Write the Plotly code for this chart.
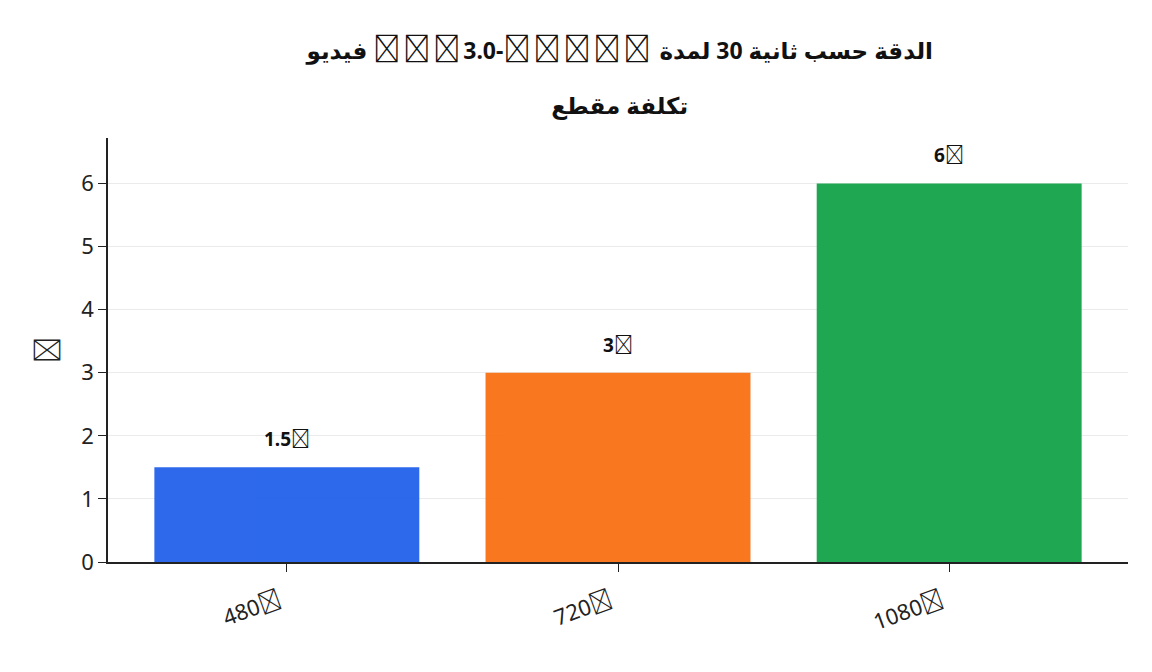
import plotly.graph_objects as go

# glyph that no installed font has; drawn as a box like in the reference
U = "<span style=\"font-family:'Noto Sans CJK SC'\">\ue000</span>"
UT = ("<span style=\"font-family:'Noto Sans CJK SC';font-size:27px;"
      "letter-spacing:3px\">\ue000</span>")
LRE, PDF, LRM = "\u202a", "\u202c", "\u200e"

resolutions = ["480" + U, "720" + U, "1080" + U]
costs = [1.5, 3, 6]
cost_labels = ["1.5" + U, "3" + U, "6" + U]
bar_colors = ["#2563EB", "#F97316", "#16A34A"]

# word order as drawn in the reference (left to right)
title_words = ["فيديو", UT * 3 + "3.0-" + UT * 5, "لمدة", "30", "ثانية", "حسب", "الدقة"]
title_line1 = LRE + (LRM + " ").join(title_words) + PDF
title_line2 = "تكلفة مقطع"
y_title = U


def big(s):
    return "<span style=\"font-size:23px\"><b>" + s + "</b></span>"


fig = go.Figure()
fig.add_trace(go.Bar(
    x=resolutions,
    y=costs,
    marker=dict(color=bar_colors, line=dict(width=0)),
    opacity=0.96,
    width=0.8,
    showlegend=False,
))

for x, y, t in zip(resolutions, costs, cost_labels):
    fig.add_annotation(x=x, y=y, text="<b>" + t + "</b>", showarrow=False,
                       yanchor="bottom", yshift=13,
                       font=dict(size=19, color="#111111"))

fig.update_layout(
    title=dict(text=big(title_line1) + "<br><br>" + big(title_line2),
               x=0.531, xanchor="center", y=0.924, yanchor="top",
               font=dict(size=21.2, color="#111111", family="Noto Sans, DejaVu Sans")),
    width=1152, height=672,
    margin=dict(l=100, r=32, t=130, b=118),
    plot_bgcolor="white", paper_bgcolor="white",
    font=dict(family="Noto Sans, DejaVu Sans", size=22, color="#222222"),
    bargap=0.2,
)
fig.update_xaxes(
    range=[-0.54, 2.54], tickangle=-20, showline=True, linecolor="#222222",
    linewidth=1.5, ticks="outside", ticklen=8, tickcolor="#222222", showgrid=False,
    ticklabelstandoff=8, ticklabelshift=-8,
)
fig.update_yaxes(
    range=[0, 6.72], dtick=1, showline=True, linecolor="#222222", linewidth=1.5,
    ticks="outside", ticklen=8, tickcolor="#222222", showgrid=True,
    gridcolor="#ebebeb", gridwidth=1, zeroline=False,
    title=dict(text=y_title, standoff=16),
)

fig.write_html("out.html")
